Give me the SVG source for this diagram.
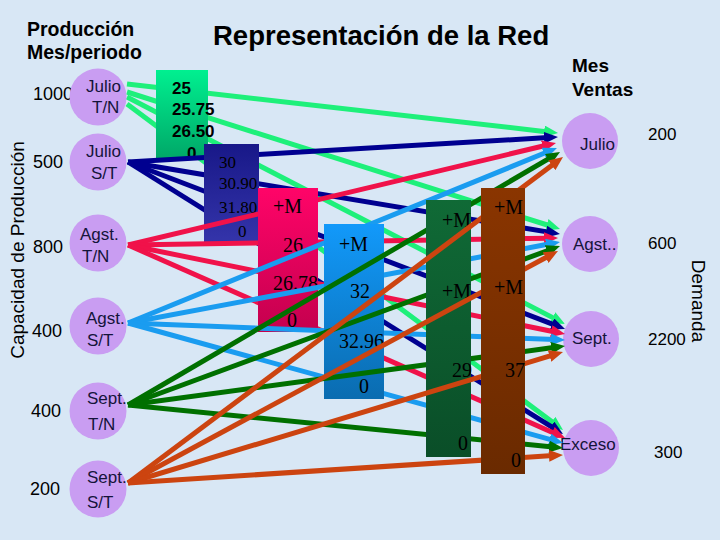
<svg xmlns="http://www.w3.org/2000/svg" width="720" height="540" viewBox="0 0 720 540">
<defs>
<style>
.sans{font-family:"Liberation Sans",Arial,sans-serif;fill:#000}
.bold{font-weight:bold}
.circ{fill:#c99df2}
.nl{font-family:"Liberation Sans",Arial,sans-serif;font-size:17px;fill:#14143a}
.num{font-family:"Liberation Sans",Arial,sans-serif;font-size:18px;fill:#000}
.dv{font-family:"Liberation Sans",Arial,sans-serif;font-size:17px;fill:#000}
.ser{font-family:"Liberation Serif","Times New Roman",serif;font-size:20px;fill:#000}
.ser17{font-family:"Liberation Serif","Times New Roman",serif;font-size:17px;fill:#000}
.gb{font-family:"Liberation Sans",Arial,sans-serif;font-size:17px;font-weight:bold;fill:#000}
.e line{stroke-width:5;fill:none}
.eg line{stroke:#1ef07a;marker-end:url(#mg)}
.en line{stroke:#000090;marker-end:url(#mn)}
.er line{stroke:#f0124a;marker-end:url(#mr)}
.el line{stroke:#1a9cf0;marker-end:url(#ml)}
.ed line{stroke:#007000;marker-end:url(#md)}
.eo line{stroke:#cc4410;marker-end:url(#mo)}
</style>
<marker id="mg" markerUnits="userSpaceOnUse" markerWidth="14" markerHeight="12" viewBox="0 0 14 12" refX="4" refY="6" orient="auto"><path d="M0,0 L14,6 L0,12 z" fill="#1ef07a"/></marker>
<marker id="mn" markerUnits="userSpaceOnUse" markerWidth="14" markerHeight="12" viewBox="0 0 14 12" refX="4" refY="6" orient="auto"><path d="M0,0 L14,6 L0,12 z" fill="#000090"/></marker>
<marker id="mr" markerUnits="userSpaceOnUse" markerWidth="14" markerHeight="12" viewBox="0 0 14 12" refX="4" refY="6" orient="auto"><path d="M0,0 L14,6 L0,12 z" fill="#f0124a"/></marker>
<marker id="ml" markerUnits="userSpaceOnUse" markerWidth="14" markerHeight="12" viewBox="0 0 14 12" refX="4" refY="6" orient="auto"><path d="M0,0 L14,6 L0,12 z" fill="#1a9cf0"/></marker>
<marker id="md" markerUnits="userSpaceOnUse" markerWidth="14" markerHeight="12" viewBox="0 0 14 12" refX="4" refY="6" orient="auto"><path d="M0,0 L14,6 L0,12 z" fill="#007000"/></marker>
<marker id="mo" markerUnits="userSpaceOnUse" markerWidth="14" markerHeight="12" viewBox="0 0 14 12" refX="4" refY="6" orient="auto"><path d="M0,0 L14,6 L0,12 z" fill="#cc4410"/></marker>
<linearGradient id="gGreen" x1="0" y1="0" x2="0" y2="1"><stop offset="0" stop-color="#00f090"/><stop offset="1" stop-color="#00a868"/></linearGradient>
<linearGradient id="gNavy" x1="0" y1="0" x2="0" y2="1"><stop offset="0" stop-color="#181888"/><stop offset="1" stop-color="#3434aa"/></linearGradient>
<linearGradient id="gPink" x1="0" y1="0" x2="0" y2="1"><stop offset="0" stop-color="#ff0468"/><stop offset="1" stop-color="#c4004e"/></linearGradient>
<linearGradient id="gBlue" x1="0" y1="0" x2="0" y2="1"><stop offset="0" stop-color="#1299fa"/><stop offset="1" stop-color="#0a6cb0"/></linearGradient>
<linearGradient id="gDk" x1="0" y1="0" x2="0" y2="1"><stop offset="0" stop-color="#106a36"/><stop offset="1" stop-color="#0a4e28"/></linearGradient>
<linearGradient id="gBrown" x1="0" y1="0" x2="0" y2="1"><stop offset="0" stop-color="#8a3500"/><stop offset="1" stop-color="#6a2a00"/></linearGradient>
</defs>
<rect x="0" y="0" width="720" height="540" fill="#d8e7f5"/>

<g id="titles">
<text class="sans bold" x="27" y="36" font-size="19.5">Producción</text>
<text class="sans bold" x="27" y="59" font-size="19.5">Mes/periodo</text>
<text class="sans bold" x="213" y="45" font-size="27.5">Representación de la Red</text>
<text class="sans bold" x="572" y="72" font-size="19">Mes</text>
<text class="sans bold" x="572" y="96" font-size="19">Ventas</text>
<text class="sans" font-size="19" transform="translate(24,250) rotate(-90)" text-anchor="middle">Capacidad de Producción</text>
<text class="sans" font-size="19" transform="translate(692,301) rotate(90)" text-anchor="middle">Demanda</text>
</g>

<g id="capacities">
<text class="num" x="33" y="100">1000</text>
<text class="num" x="33" y="168">500</text>
<text class="num" x="33" y="253">800</text>
<text class="num" x="32" y="337">400</text>
<text class="num" x="31" y="417">400</text>
<text class="num" x="30" y="495">200</text>
</g>

<g id="dest-julio"><circle class="circ" cx="590" cy="141" r="28"/><text class="nl" x="580" y="150">Julio</text><text class="dv" x="648" y="140">200</text></g>
<g id="dest-agst"><circle class="circ" cx="590" cy="244" r="28"/><text class="nl" x="573" y="250">Agst..</text><text class="dv" x="648" y="249">600</text></g>
<g id="dest-sept"><circle class="circ" cx="591" cy="339" r="28"/><text class="nl" x="572" y="344">Sept.</text><text class="dv" x="648" y="345">2200</text></g>
<g id="dest-exceso"><circle class="circ" cx="591" cy="448" r="28"/><text class="nl" x="560" y="450">Exceso</text><text class="dv" x="654" y="458">300</text></g>

<g id="edges-julio-tn" class="e eg">
<line x1="127" y1="84" x2="548.1" y2="131.9"/>
<line x1="127" y1="92" x2="550.5" y2="226"/>
<line x1="127" y1="97" x2="556.1" y2="319.4"/>
<line x1="127" y1="104" x2="555" y2="424"/>
</g>
<g id="cost-julio-tn"><rect x="156" y="70" width="52" height="88" fill="url(#gGreen)"/>
<text class="gb" x="172" y="94">25</text><text class="gb" x="172" y="115">25.75</text><text class="gb" x="172" y="137">26.50</text><text class="gb" x="187" y="159">0</text></g>

<g id="edges-julio-st" class="e en">
<line x1="128" y1="162" x2="548" y2="137.6"/>
<line x1="128" y1="162" x2="550.1" y2="232.4"/>
<line x1="128" y1="162" x2="555.7" y2="325.4"/>
<line x1="128" y1="162" x2="554.5" y2="428.7"/>
</g>
<g id="cost-julio-st"><rect x="204" y="144" width="55" height="98" fill="url(#gNavy)"/>
<text class="ser17" x="219" y="168">30</text><text class="ser17" x="219" y="189">30.90</text><text class="ser17" x="219" y="213">31.80</text><text class="ser17" x="238" y="237">0</text></g>

<g id="edges-agst-tn" class="e er">
<line x1="128" y1="245" x2="546.3" y2="145.3"/>
<line x1="128" y1="245" x2="548" y2="238.2"/>
<line x1="128" y1="245" x2="555.2" y2="332"/>
<line x1="128" y1="245" x2="555.9" y2="434"/>
</g>
<g id="cost-agst-tn"><rect x="258" y="188" width="60" height="144" fill="url(#gPink)"/>
<text class="ser" x="273" y="213">+M</text><text class="ser" x="283" y="252">26</text><text class="ser" x="273" y="290">26.78</text><text class="ser" x="287" y="327">0</text></g>

<g id="edges-agst-st" class="e el">
<line x1="128" y1="323" x2="547.7" y2="151.8"/>
<line x1="128" y1="323" x2="550.2" y2="243.8"/>
<line x1="128" y1="323" x2="555" y2="339.6"/>
<line x1="128" y1="323" x2="553.4" y2="440.3"/>
</g>
<g id="cost-agst-st"><rect x="324" y="224" width="60" height="175" fill="url(#gBlue)"/>
<text class="ser" x="339" y="251">+M</text><text class="ser" x="350" y="298">32</text><text class="ser" x="339" y="348">32.96</text><text class="ser" x="359" y="393">0</text></g>

<g id="edges-sept-tn" class="e ed">
<line x1="128" y1="405" x2="551.4" y2="157.1"/>
<line x1="128" y1="405" x2="550.6" y2="249.5"/>
<line x1="128" y1="405" x2="555.1" y2="347.3"/>
<line x1="128" y1="405" x2="553" y2="447"/>
</g>
<g id="cost-sept-tn"><rect x="426" y="200" width="45" height="257" fill="url(#gDk)"/>
<text class="ser" x="442" y="227">+M</text><text class="ser" x="442" y="298">+M</text><text class="ser" x="452" y="377">29</text><text class="ser" x="458" y="450">0</text></g>

<g id="edges-sept-st" class="e eo">
<line x1="128" y1="483" x2="555" y2="163"/>
<line x1="128" y1="483" x2="549.2" y2="255.7"/>
<line x1="128" y1="483" x2="553.4" y2="354.9"/>
<line x1="128" y1="483" x2="553" y2="455.6"/>
</g>
<g id="cost-sept-st"><rect x="481" y="188" width="44" height="286" fill="url(#gBrown)"/>
<text class="ser" x="494" y="214">+M</text><text class="ser" x="494" y="294">+M</text><text class="ser" x="505" y="377">37</text><text class="ser" x="511" y="467">0</text></g>

<g id="src-julio-tn"><circle class="circ" cx="98" cy="97" r="28.5"/><text class="nl" x="86" y="92">Julio</text><text class="nl" x="92" y="113">T/N</text></g>
<g id="src-julio-st"><circle class="circ" cx="98" cy="162" r="28.5"/><text class="nl" x="86" y="157">Julio</text><text class="nl" x="91" y="179">S/T</text></g>
<g id="src-agst-tn"><circle class="circ" cx="98" cy="243" r="28.5"/><text class="nl" x="80" y="240">Agst.</text><text class="nl" x="82" y="262">T/N</text></g>
<g id="src-agst-st"><circle class="circ" cx="98" cy="326" r="28.5"/><text class="nl" x="86" y="324">Agst.</text><text class="nl" x="87" y="346">S/T</text></g>
<g id="src-sept-tn"><circle class="circ" cx="98" cy="411" r="28.5"/><text class="nl" x="87" y="404">Sept.</text><text class="nl" x="88" y="430">T/N</text></g>
<g id="src-sept-st"><circle class="circ" cx="98" cy="489" r="28.5"/><text class="nl" x="87" y="483">Sept.</text><text class="nl" x="87" y="508">S/T</text></g>
</svg>
